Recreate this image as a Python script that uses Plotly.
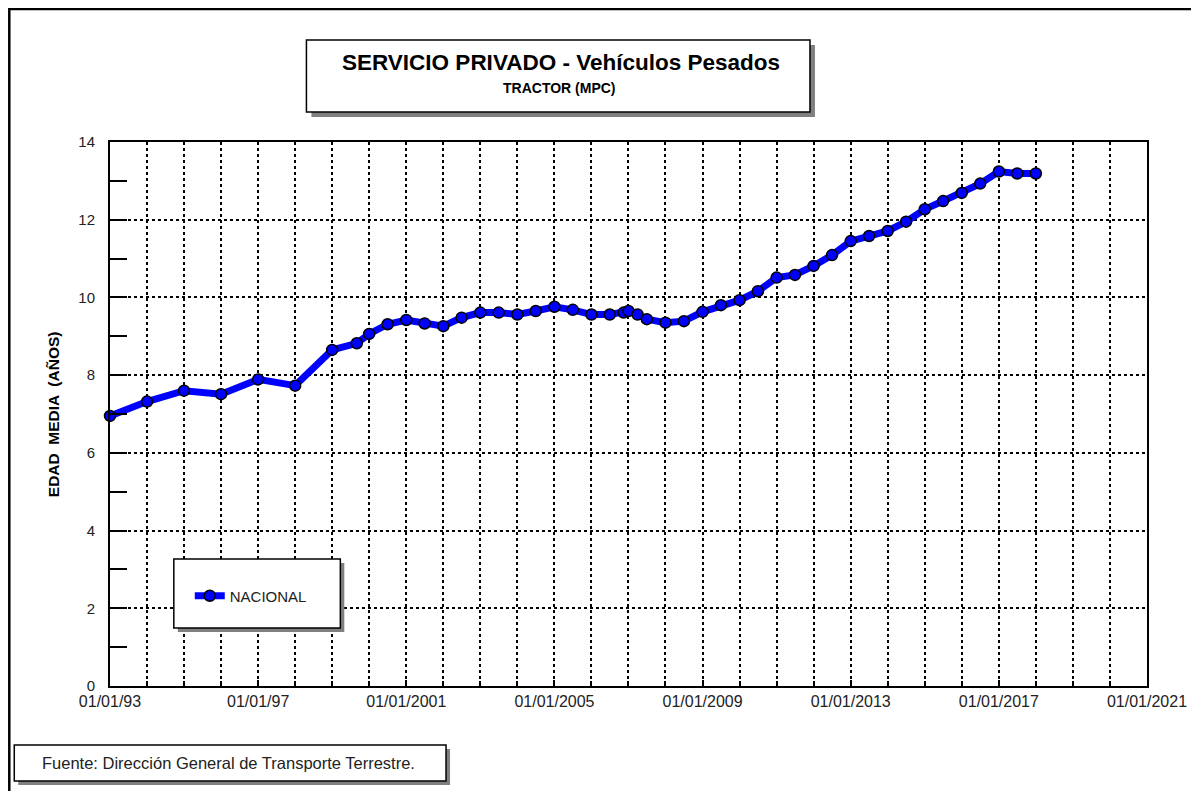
import plotly.graph_objects as go

# ---- data ----
fechas = [
    "1993-01-01", "1994-01-01", "1995-01-01", "1996-01-01", "1997-01-01",
    "1998-01-01", "1999-01-01", "1999-09-01", "2000-01-01", "2000-07-01",
    "2001-01-01", "2001-07-01", "2002-01-01", "2002-07-01", "2003-01-01",
    "2003-07-01", "2004-01-01", "2004-07-01", "2005-01-01", "2005-07-01",
    "2006-01-01", "2006-07-01", "2006-11-15", "2007-01-01", "2007-04-01",
    "2007-07-01", "2008-01-01", "2008-07-01", "2009-01-01", "2009-07-01",
    "2010-01-01", "2010-07-01", "2011-01-01", "2011-07-01", "2012-01-01",
    "2012-07-01", "2013-01-01", "2013-07-01", "2014-01-01", "2014-07-01",
    "2015-01-01", "2015-07-01", "2016-01-01", "2016-07-01", "2017-01-01",
    "2017-07-01", "2018-01-01",
]
edad_media = [
    6.95, 7.32, 7.60, 7.51, 7.89,
    7.73, 8.65, 8.82, 9.06, 9.31,
    9.42, 9.33, 9.26, 9.48, 9.61,
    9.61, 9.56, 9.65, 9.76, 9.68,
    9.56, 9.56, 9.61, 9.65, 9.56,
    9.44, 9.35, 9.39, 9.63, 9.80,
    9.93, 10.16, 10.51, 10.58, 10.81,
    11.09, 11.45, 11.58, 11.71, 11.95,
    12.27, 12.48, 12.69, 12.93, 13.24,
    13.19, 13.19,
]
tick_fechas = ["1993-01-01", "1997-01-01", "2001-01-01", "2005-01-01",
               "2009-01-01", "2013-01-01", "2017-01-01", "2021-01-01"]
tick_textos = ["01/01/93", "01/01/97", "01/01/2001", "01/01/2005",
               "01/01/2009", "01/01/2013", "01/01/2017", "01/01/2021"]

# page layout (page pixels); the html body adds an 8px margin
OFF = 8
W, H = 1199 - OFF, 791 - OFF
L, R, T, B = 110, 1150, 142, 686
FONT = "Liberation Sans, Arial, sans-serif"


def px(x):
    return (x - L) / (R - L)


def py(y):
    return (B - y) / (B - T)


def caja(x0, y0, x1, y1, sombra=5):
    return [
        dict(type="rect", xref="paper", yref="paper",
             x0=px(x0 + sombra), x1=px(x1 + sombra), y0=py(y0 + sombra), y1=py(y1 + sombra),
             fillcolor="#808080", line=dict(width=0), layer="above"),
        dict(type="rect", xref="paper", yref="paper",
             x0=px(x0), x1=px(x1), y0=py(y0), y1=py(y1),
             fillcolor="white", line=dict(color="black", width=1.5), layer="above"),
    ]


fig = go.Figure()

fig.add_trace(go.Scatter(
    x=fechas, y=edad_media,
    mode="lines+markers",
    name="NACIONAL",
    line=dict(color="#0000ff", width=7),
    marker=dict(size=11, color="#0000ff", line=dict(color="black", width=1.5)),
    cliponaxis=False,
))

shapes = []
# outer frame (only top and left edges fall inside the picture)
shapes.append(dict(type="rect", xref="paper", yref="paper",
                   x0=px(9), x1=px(1230), y0=py(9), y1=py(830),
                   line=dict(color="black", width=2.5), layer="below"))
shapes += caja(307, 40, 812, 112)
shapes += caja(174, 559, 341, 628, sombra=4)
shapes += caja(14, 745, 447, 781, sombra=4)

fig.update_layout(
    width=W, height=H,
    margin=dict(l=L - OFF, r=W - (R - OFF), t=T - OFF, b=H - (B - OFF)),
    paper_bgcolor="white", plot_bgcolor="white",
    font=dict(family=FONT, size=15, color="#222"),
    shapes=shapes,
    showlegend=True,
    legend=dict(x=px(190), y=py(596), xanchor="left", yanchor="middle",
                bgcolor="rgba(0,0,0,0)", borderwidth=0,
                font=dict(size=15, color="#222"), itemwidth=30),
    annotations=[
        dict(text="<b>SERVICIO PRIVADO - Vehículos Pesados</b>", xref="paper", yref="paper",
             x=px(562), y=py(63), xanchor="center", yanchor="middle", showarrow=False,
             font=dict(size=22.5, color="black")),
        dict(text="<b>TRACTOR (MPC)</b>", xref="paper", yref="paper",
             x=px(561), y=py(88), xanchor="center", yanchor="middle", showarrow=False,
             font=dict(size=14, color="black")),
        dict(text="<b>EDAD  MEDIA  (AÑOS)</b>", xref="paper", yref="paper",
             x=px(53), y=py(414), xanchor="center", yanchor="middle", textangle=-90,
             showarrow=False, font=dict(size=15.5, color="black")),
        dict(text="Fuente: Dirección General de Transporte Terrestre.", xref="paper", yref="paper",
             x=px(229), y=py(763), xanchor="center", yanchor="middle", showarrow=False,
             font=dict(size=16.5, color="#222")),
    ],
    xaxis=dict(
        type="date",
        range=["1993-01-01", "2021-01-01"],
        tickvals=tick_fechas, ticktext=tick_textos,
        ticks="inside", ticklen=6, tickcolor="black", tickwidth=1.5,
        showgrid=True, gridcolor="black", griddash="dot", gridwidth=1.5,
        showline=True, linecolor="black", linewidth=2, mirror=True,
        zeroline=False,
        minor=dict(dtick="M12", tick0="1993-01-01", ticks="inside", ticklen=5,
                   tickcolor="black", showgrid=True, gridcolor="black",
                   griddash="dot", gridwidth=1.5),
        tickfont=dict(size=16, color="#222"),
    ),
    yaxis=dict(
        range=[0, 14], dtick=2, tick0=0,
        ticks="inside", ticklen=17, tickcolor="black", tickwidth=1.5,
        showgrid=True, gridcolor="black", griddash="dot", gridwidth=1.5,
        showline=True, linecolor="black", linewidth=2, mirror=True,
        zeroline=False,
        minor=dict(dtick=1, ticks="inside", ticklen=17, tickcolor="black",
                   tickwidth=1.5, showgrid=False),
        tickfont=dict(size=15, color="#222"),
        ticklabelstandoff=10,
    ),
)

fig.write_html("out.html")
